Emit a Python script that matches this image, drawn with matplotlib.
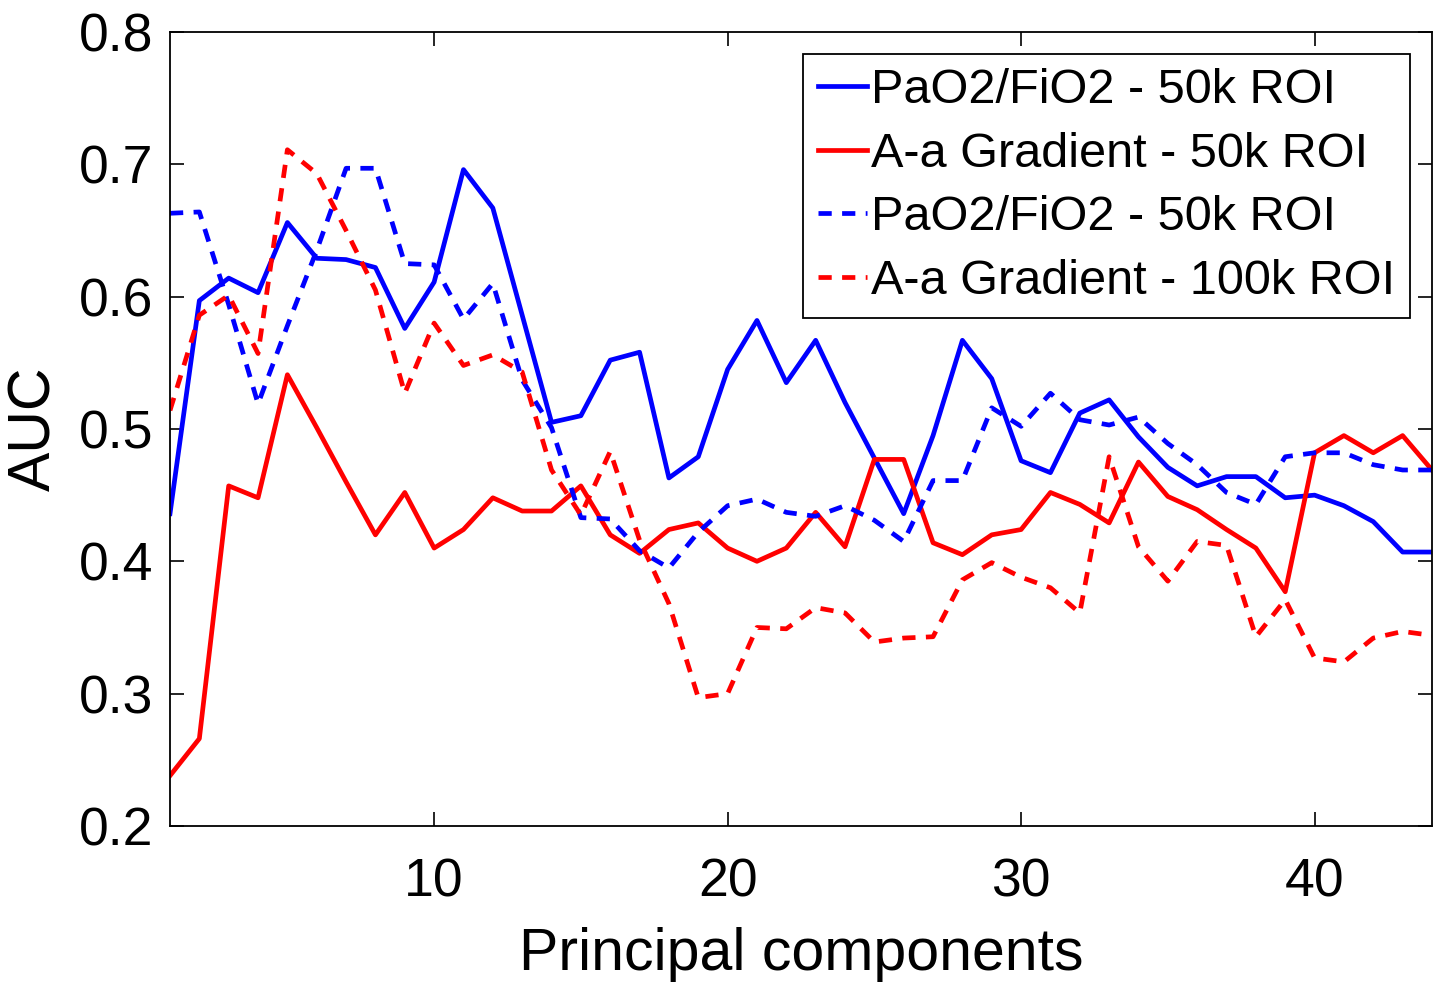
import numpy as np
import matplotlib
matplotlib.use("Agg")
import matplotlib.pyplot as plt

plt.rcParams['font.family'] = ['Liberation Sans', 'DejaVu Sans']

# number of principal components kept
n_pc = np.arange(1, 45)

# AUC per number of components
pf_50k = [0.436, 0.597, 0.614, 0.603, 0.656, 0.629, 0.628, 0.622, 0.576, 0.611,
          0.696, 0.667, 0.586, 0.505, 0.510, 0.552, 0.558, 0.463, 0.479, 0.545,
          0.582, 0.535, 0.567, 0.520, 0.478, 0.436, 0.495, 0.567, 0.538, 0.476,
          0.467, 0.512, 0.522, 0.494, 0.471, 0.457, 0.464, 0.464, 0.448, 0.450,
          0.442, 0.430, 0.407, 0.407]
aa_50k = [0.238, 0.266, 0.457, 0.448, 0.541, 0.501, 0.460, 0.420, 0.452, 0.410,
          0.424, 0.448, 0.438, 0.438, 0.457, 0.420, 0.406, 0.424, 0.429, 0.410,
          0.400, 0.410, 0.437, 0.411, 0.477, 0.477, 0.414, 0.405, 0.420, 0.424,
          0.452, 0.443, 0.429, 0.475, 0.449, 0.439, 0.424, 0.410, 0.377, 0.482,
          0.495, 0.482, 0.495, 0.469]
pf_50k_b = [0.663, 0.664, 0.594, 0.519, 0.578, 0.635, 0.697, 0.697, 0.625, 0.624,
            0.583, 0.610, 0.537, 0.501, 0.433, 0.432, 0.408, 0.395, 0.422, 0.442,
            0.447, 0.437, 0.434, 0.442, 0.431, 0.415, 0.461, 0.461, 0.516, 0.502,
            0.527, 0.507, 0.503, 0.509, 0.489, 0.473, 0.452, 0.443, 0.479, 0.482,
            0.482, 0.473, 0.469, 0.469]
aa_100k = [0.514, 0.586, 0.601, 0.557, 0.711, 0.693, 0.650, 0.605, 0.527, 0.580,
           0.548, 0.556, 0.543, 0.469, 0.435, 0.483, 0.416, 0.368, 0.297, 0.300,
           0.350, 0.349, 0.365, 0.361, 0.339, 0.342, 0.343, 0.386, 0.399, 0.388,
           0.380, 0.361, 0.479, 0.411, 0.385, 0.415, 0.412, 0.343, 0.371, 0.327,
           0.324, 0.342, 0.347, 0.344]

labels = ['PaO2/FiO2 - 50k ROI', 'A-a Gradient - 50k ROI',
          'PaO2/FiO2 - 50k ROI', 'A-a Gradient - 100k ROI']

fig = plt.figure(figsize=(14.37, 9.84), dpi=100)
ax = fig.add_axes([0.1183, 0.1606, 0.8782, 0.8069])

dash = (0, (2.8, 2.2))
ax.plot(n_pc, pf_50k, color='#0000ff', lw=3.4, label=labels[0])
ax.plot(n_pc, aa_50k, color='#ff0000', lw=3.4, label=labels[1])
ax.plot(n_pc, pf_50k_b, color='#0000ff', lw=3.4, ls=dash, label=labels[2])
ax.plot(n_pc, aa_100k, color='#ff0000', lw=3.4, ls=dash, label=labels[3])

ax.set_xlim(1, 44)
ax.set_ylim(0.2, 0.8)
ax.set_xticks([10, 20, 30, 40])
ax.set_yticks(np.arange(0.2, 0.81, 0.1))
ax.set_yticklabels(['0.2', '0.3', '0.4', '0.5', '0.6', '0.7', '0.8'])

ax.tick_params(direction='in', length=10, width=1.2, labelsize=38.5,
               top=True, right=True)
ax.tick_params(axis='x', pad=23)
ax.tick_params(axis='y', pad=12)
for s in ax.spines.values():
    s.set_linewidth(1.3)

ax.set_xlabel('Principal components', fontsize=42.5, labelpad=14)
ax.set_ylabel('AUC', fontsize=42.5, labelpad=12)

leg = ax.legend(loc='upper right', fontsize=35, handlelength=1.0,
                handletextpad=0.1, labelspacing=0.38, borderpad=0.3,
                borderaxespad=0.45, fancybox=False, framealpha=1)
leg.get_frame().set_edgecolor('black')
leg.get_frame().set_linewidth(1.3)

fig.savefig('out.png', dpi=100)
